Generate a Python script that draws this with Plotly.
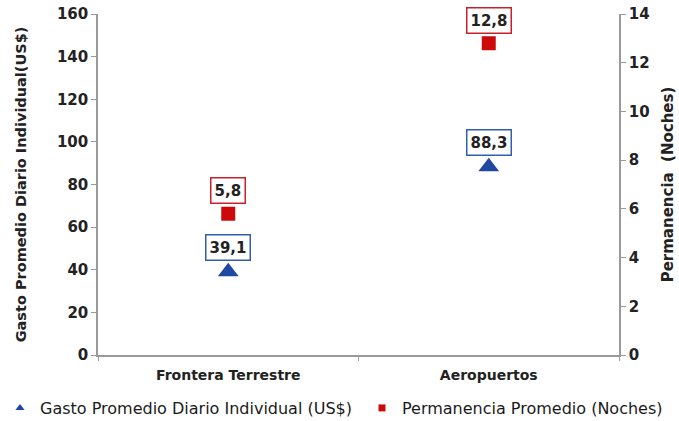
import plotly.graph_objects as go

categories = ["Frontera Terrestre", "Aeropuertos"]
gasto = [39.1, 88.3]
permanencia = [5.8, 12.8]
gasto_labels = ["39,1", "88,3"]
perm_labels = ["5,8", "12,8"]
left_ticks = [0, 20, 40, 60, 80, 100, 120, 140, 160]
right_ticks = [0, 2, 4, 6, 8, 10, 12, 14]

BLUE = "#1f48a0"
RED = "#cc0a0a"
FONT = "DejaVu Sans"

fig = go.Figure()
fig.add_trace(go.Scatter(x=categories, y=gasto, mode="markers", showlegend=False,
                         marker=dict(symbol="triangle-up", size=18, color=BLUE), yaxis="y"))
fig.add_trace(go.Scatter(x=categories, y=permanencia, mode="markers", showlegend=False,
                         marker=dict(symbol="square", size=14, color=RED), yaxis="y2"))
# legend entries
fig.add_trace(go.Scatter(x=[None], y=[None], mode="markers", name="Gasto Promedio Diario Individual (US$)",
                         marker=dict(symbol="triangle-up", size=8, color=BLUE), legend="legend"))
fig.add_trace(go.Scatter(x=[None], y=[None], mode="markers", name="Permanencia Promedio (Noches)",
                         marker=dict(symbol="square", size=7, color=RED), yaxis="y2", legend="legend2"))

for c, v, t in zip(categories, gasto, gasto_labels):
    fig.add_annotation(x=c, y=v, yref="y", text="<b>" + t + "</b>", showarrow=False, yshift=24,
                       bordercolor="#2f5fae", borderwidth=1.5, borderpad=3, bgcolor="white",
                       font=dict(family=FONT, size=15, color="#222"))
for c, v, t in zip(categories, permanencia, perm_labels):
    fig.add_annotation(x=c, y=v, yref="y2", text="<b>" + t + "</b>", showarrow=False, yshift=23,
                       bordercolor="#c8202a", borderwidth=1.5, borderpad=3, bgcolor="white",
                       font=dict(family=FONT, size=15, color="#222"))

axis_line = "#9a9a9a"
legend_common = dict(orientation="h", xref="container", xanchor="left",
                     yref="container", y=(421 - 408) / 421, yanchor="middle", bgcolor="rgba(0,0,0,0)",
                     font=dict(family=FONT, size=16, color="#1a1a1a"), itemwidth=30)
fig.update_layout(
    width=679, height=421,
    margin=dict(l=98, r=60, t=14, b=66, autoexpand=False),
    plot_bgcolor="white", paper_bgcolor="white",
    font=dict(family=FONT, color="#222"),
    xaxis=dict(type="category", categoryorder="array", categoryarray=categories, range=[-0.5, 1.5],
               showline=True, linecolor=axis_line, linewidth=1.5, showgrid=False,
               ticks="outside", tickson="boundaries", ticklen=4, tickcolor=axis_line,
               ticklabelstandoff=6,
               tickfont=dict(family=FONT, size=14, color="#222", weight="bold"), zeroline=False),
    yaxis=dict(range=[0, 160], tickvals=left_ticks, showline=True, linecolor=axis_line, linewidth=1.5,
               showgrid=False, zeroline=False, ticks="outside", ticklen=5, tickcolor=axis_line,
               tickfont=dict(family=FONT, size=15, color="#222", weight="bold"),
               title=dict(text="<b>Gasto Promedio Diario Individual(US$)</b>", standoff=27,
                          font=dict(family=FONT, size=14.5, color="#222"))),
    yaxis2=dict(range=[0, 14], tickvals=right_ticks, overlaying="y", side="right",
                showline=True, linecolor=axis_line, linewidth=1.5, showgrid=False, zeroline=False,
                ticks="outside", ticklen=5, tickcolor=axis_line,
                tickfont=dict(family=FONT, size=15, color="#222", weight="bold"),
                title=dict(text="<b>Permanencia  (Noches)</b>", standoff=14,
                           font=dict(family=FONT, size=15, color="#222"))),
    legend=dict(legend_common, x=-0.005),
    legend2=dict(legend_common, x=362 / 679),
)

fig.write_html("out.html")
